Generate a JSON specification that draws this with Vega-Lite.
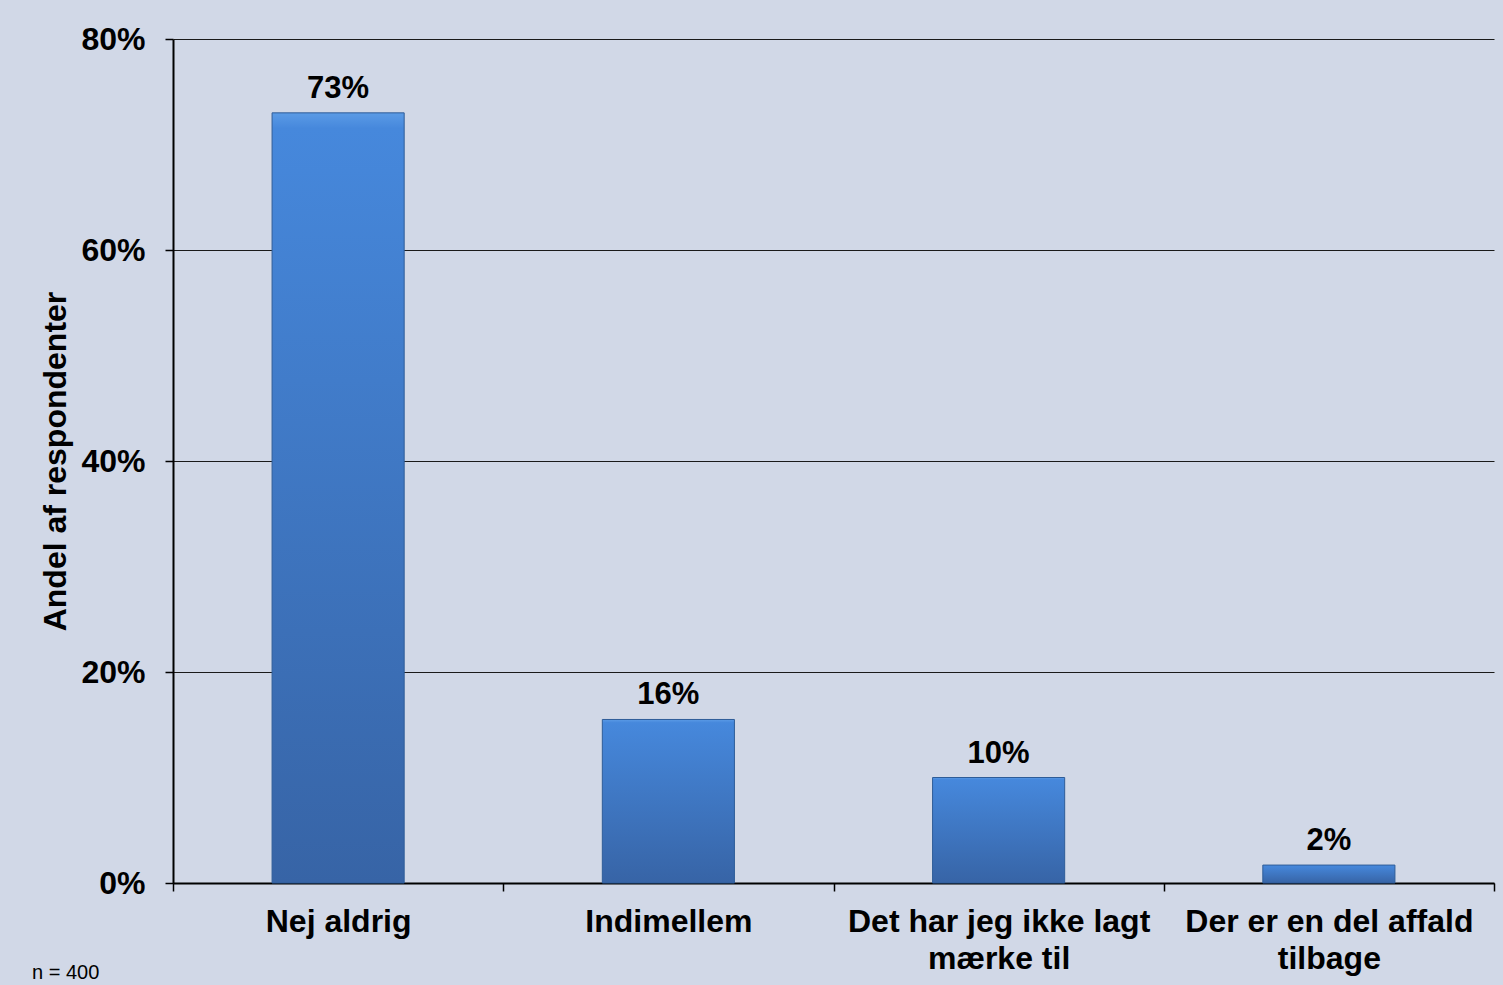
{
  "$schema": "https://vega.github.io/schema/vega-lite/v6.json",
  "width": 1321,
  "height": 844,
  "autosize": {"type": "none"},
  "padding": {"left": 173, "top": 39, "right": 9, "bottom": 102},
  "background": "#D1D8E7",
  "title": {
    "text": "n = 400",
    "orient": "bottom",
    "anchor": "start",
    "frame": "group",
    "dx": -141,
    "dy": 9,
    "offset": 0,
    "font": "Liberation Sans",
    "fontSize": 20,
    "fontWeight": "normal",
    "color": "#000000",
    "baseline": "bottom"
  },
  "data": {
    "values": [
      {"kategori": "Nej aldrig", "andel": 73.0, "tekst": "73%"},
      {"kategori": "Indimellem", "andel": 15.5, "tekst": "16%"},
      {"kategori": "Det har jeg ikke lagt|mærke til", "andel": 10.0, "tekst": "10%"},
      {"kategori": "Der er en del affald|tilbage", "andel": 1.7, "tekst": "2%"}
    ]
  },
  "config": {
    "view": {"stroke": null},
    "axis": {
      "labelFont": "Liberation Sans",
      "labelFontWeight": "bold",
      "labelFontSize": 32,
      "labelColor": "#000000",
      "titleFont": "Liberation Sans",
      "titleFontWeight": "bold",
      "titleFontSize": 32,
      "titleColor": "#000000",
      "domainColor": "#000000",
      "tickColor": "#000000"
    }
  },
  "encoding": {
    "x": {
      "field": "kategori",
      "type": "nominal",
      "sort": null,
      "scale": {"paddingInner": 0, "paddingOuter": 0},
      "axis": {
        "title": null,
        "labelAngle": 0,
        "labelExpr": "split(datum.label, '|')",
        "labelLineHeight": 37,
        "labelPadding": 15,
        "labelLimit": 340,
        "tickBand": "extent",
        "tickSize": 8,
        "tickWidth": 1.5,
        "domainWidth": 2,
        "labelBaseline": "top"
      }
    },
    "y": {
      "field": "andel",
      "type": "quantitative",
      "scale": {"domain": [0, 80]},
      "axis": {
        "title": "Andel af respondenter",
        "values": [0, 20, 40, 60, 80],
        "labelExpr": "datum.value + '%'",
        "grid": true,
        "gridColor": "#1a1a1a",
        "gridWidth": 1.2,
        "tickSize": 8,
        "tickWidth": 1.5,
        "domainWidth": 2,
        "labelPadding": 20,
        "titlePadding": 8
      }
    }
  },
  "layer": [
    {
      "mark": {
        "type": "bar",
        "width": {"band": 0.4},
        "stroke": "#2E5C98",
        "strokeWidth": 1,
        "fill": {
          "gradient": "linear",
          "x1": 0, "y1": 0, "x2": 0, "y2": 1,
          "stops": [
            {"offset": 0, "color": "#5B9BE6"},
            {"offset": 0.02, "color": "#4688DC"},
            {"offset": 1, "color": "#3764A6"}
          ]
        }
      }
    },
    {
      "mark": {
        "type": "text",
        "baseline": "bottom",
        "dy": -8,
        "font": "Liberation Sans",
        "fontWeight": "bold",
        "fontSize": 31,
        "color": "#000000"
      },
      "encoding": {"text": {"field": "tekst"}}
    }
  ]
}
